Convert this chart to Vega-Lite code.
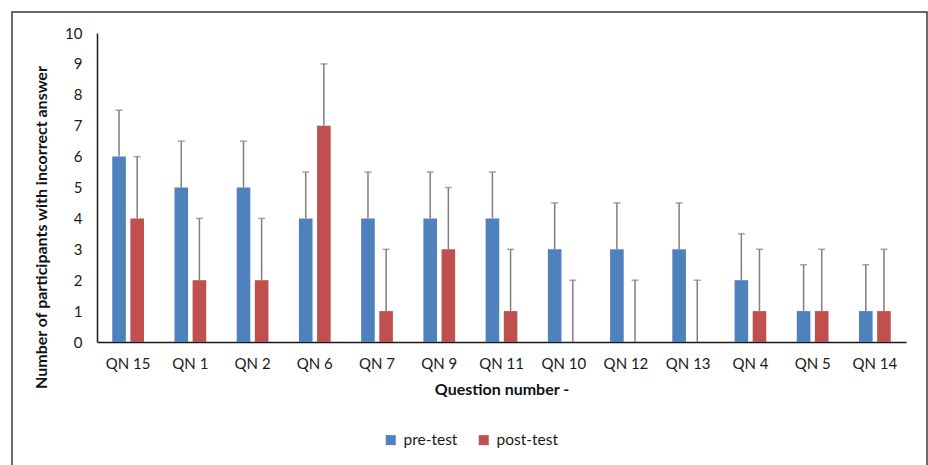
{
  "$schema": "https://vega.github.io/schema/vega-lite/v6.json",
  "autosize": {"type": "none"},
  "width": 915,
  "height": 455,
  "padding": {"left": 12, "top": 12, "right": 1, "bottom": 0},
  "background": "white",
  "config": {
    "font": "Lato",
    "view": {"stroke": "#3a3a3a", "strokeWidth": 1.5},
    "axis": {"labelFont": "Lato", "titleFont": "Lato", "labelColor": "#1a1a1a", "titleColor": "#111", "grid": false, "ticks": false}
  },
  "data": {
    "values": [
      {"q": "QN 15", "test": "pre-test", "value": 6, "upper": 7.5},
      {"q": "QN 15", "test": "post-test", "value": 4, "upper": 6},
      {"q": "QN 1", "test": "pre-test", "value": 5, "upper": 6.5},
      {"q": "QN 1", "test": "post-test", "value": 2, "upper": 4},
      {"q": "QN 2", "test": "pre-test", "value": 5, "upper": 6.5},
      {"q": "QN 2", "test": "post-test", "value": 2, "upper": 4},
      {"q": "QN 6", "test": "pre-test", "value": 4, "upper": 5.5},
      {"q": "QN 6", "test": "post-test", "value": 7, "upper": 9},
      {"q": "QN 7", "test": "pre-test", "value": 4, "upper": 5.5},
      {"q": "QN 7", "test": "post-test", "value": 1, "upper": 3},
      {"q": "QN 9", "test": "pre-test", "value": 4, "upper": 5.5},
      {"q": "QN 9", "test": "post-test", "value": 3, "upper": 5},
      {"q": "QN 11", "test": "pre-test", "value": 4, "upper": 5.5},
      {"q": "QN 11", "test": "post-test", "value": 1, "upper": 3},
      {"q": "QN 10", "test": "pre-test", "value": 3, "upper": 4.5},
      {"q": "QN 10", "test": "post-test", "value": 0, "upper": 2},
      {"q": "QN 12", "test": "pre-test", "value": 3, "upper": 4.5},
      {"q": "QN 12", "test": "post-test", "value": 0, "upper": 2},
      {"q": "QN 13", "test": "pre-test", "value": 3, "upper": 4.5},
      {"q": "QN 13", "test": "post-test", "value": 0, "upper": 2},
      {"q": "QN 4", "test": "pre-test", "value": 2, "upper": 3.5},
      {"q": "QN 4", "test": "post-test", "value": 1, "upper": 3},
      {"q": "QN 5", "test": "pre-test", "value": 1, "upper": 2.5},
      {"q": "QN 5", "test": "post-test", "value": 1, "upper": 3},
      {"q": "QN 14", "test": "pre-test", "value": 1, "upper": 2.5},
      {"q": "QN 14", "test": "post-test", "value": 1, "upper": 3}
    ]
  },
  "encoding": {
    "x": {
      "field": "q", "type": "nominal", "sort": null,
      "scale": {"range": [85, 894], "paddingInner": 0.49, "paddingOuter": 0.245},
      "axis": {
        "title": "Question number -", "labelAngle": 0, "offset": -125,
        "domainColor": "#1a1a1a", "domainWidth": 1.5,
        "labelFontSize": 15, "labelPadding": 14,
        "titleFontSize": 16, "titleFontWeight": "bold", "titlePadding": 10
      }
    },
    "xOffset": {
      "field": "test", "type": "nominal", "sort": ["pre-test", "post-test"],
      "scale": {"paddingInner": 0.25}
    }
  },
  "layer": [
    {
      "mark": {"type": "bar"},
      "encoding": {
        "y": {
          "field": "value", "type": "quantitative",
          "scale": {"domain": [0, 10], "range": [330, 21], "nice": false},
          "axis": {
            "title": "Number of participants with incorrect answer",
            "offset": -85, "values": [0,1,2,3,4,5,6,7,8,9,10],
            "domainColor": "#1a1a1a", "domainWidth": 1.5,
            "labelFontSize": 15, "labelPadding": 15,
            "titleFontSize": 16, "titleFontWeight": "bold", "titlePadding": 15, "titleY": 215
          }
        },
        "color": {
          "field": "test", "type": "nominal",
          "scale": {"domain": ["pre-test", "post-test"], "range": ["#4f81bd", "#c0504d"]},
          "legend": {
            "title": null, "orient": "none", "direction": "horizontal",
            "legendX": 371, "legendY": 420,
            "symbolType": "square", "symbolSize": 100, "symbolStrokeWidth": 0,
            "labelFontSize": 15.5, "labelColor": "#1a1a1a", "labelOffset": 5, "columnPadding": 18
          }
        }
      }
    },
    {
      "mark": {"type": "rule", "color": "#7f7f7f", "strokeWidth": 1.5},
      "encoding": {
        "y": {"field": "value", "type": "quantitative"},
        "y2": {"field": "upper"}
      }
    },
    {
      "mark": {"type": "tick", "color": "#7f7f7f", "thickness": 1.5, "size": 7, "orient": "horizontal"},
      "encoding": {
        "y": {"field": "upper", "type": "quantitative"}
      }
    }
  ]
}
